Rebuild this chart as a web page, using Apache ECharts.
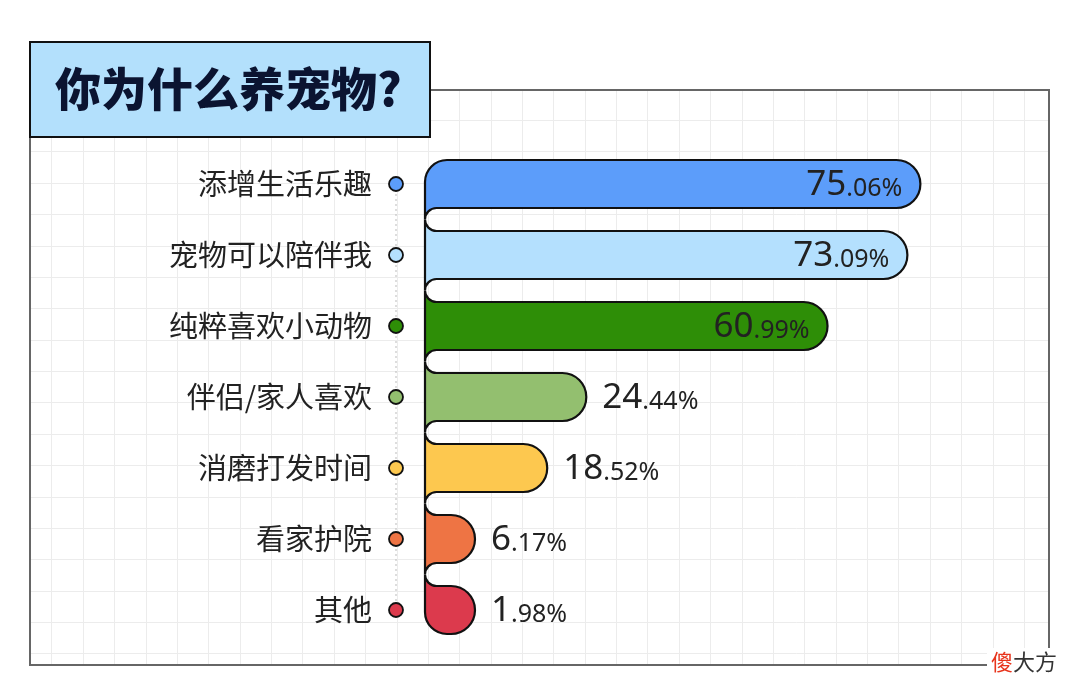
<!DOCTYPE html>
<html>
<head>
<meta charset="utf-8">
<script src="https://cdn.jsdelivr.net/npm/echarts@6/dist/echarts.min.js"></script>
<style>html,body{margin:0;padding:0;background:#fff;}#c{width:1080px;height:700px;}</style>
</head>
<body>
<div id="c"></div>
<script>
const titleText = '你为什么养宠物?';
const categories = ['添增生活乐趣', '宠物可以陪伴我', '纯粹喜欢小动物', '伴侣/家人喜欢', '消磨打发时间', '看家护院', '其他'];
const values = [75.06, 73.09, 60.99, 24.44, 18.52, 6.17, 1.98];
const palette = ['#5c9dfa', '#b4e0fe', '#2e8e07', '#93bf6f', '#fdc84f', '#ee7444', '#dc3a4d'];
const watermark = ['傻', '大方'];
const bgCols = Array.from({ length: 34 }, (_, i) => String(i));
const bgRows = Array.from({ length: 20 }, (_, i) => String(i));

const chart = echarts.init(document.getElementById('c'));
const n = values.length;
const CELL = 31.37;

function renderItem(params, api) {
  const idx = params.dataIndex;
  const v = api.value(0);
  const o = api.coord([0, idx]);
  const c = api.coord([v, idx]);
  const band = api.size([0, 1])[1];
  const h = band * 0.676;
  const x0 = o[0], yc = o[1];
  const L = Math.max(c[0] - x0, 50);
  const xe = x0 + L;
  const r = h / 2;
  const yt = yc - h / 2, yb = yc + h / 2;
  const rg = (band - h) / 2;
  const R = 22;
  let p = '';
  if (idx === 0) {
    p += 'M' + x0 + ',' + (yt + R) + ' A' + R + ',' + R + ' 0 0 1 ' + (x0 + R) + ',' + yt;
  } else {
    p += 'M' + x0 + ',' + (yt - rg) + ' A' + rg + ',' + rg + ' 0 0 0 ' + (x0 + rg) + ',' + yt;
  }
  p += ' L' + (xe - r) + ',' + yt;
  p += ' A' + r + ',' + r + ' 0 0 1 ' + (xe - r) + ',' + yb;
  if (idx < n - 1) {
    p += ' L' + (x0 + rg) + ',' + yb + ' A' + rg + ',' + rg + ' 0 0 0 ' + x0 + ',' + (yb + rg);
  } else {
    p += ' L' + (x0 + R) + ',' + yb + ' A' + R + ',' + R + ' 0 0 1 ' + x0 + ',' + (yb - R);
  }
  p += ' Z';

  const s = v.toFixed(2).split('.');
  const inside = v > 40;
  const xd = x0 - 29;
  const children = [];
  if (idx < n - 1) {
    children.push({
      type: 'line',
      shape: { x1: xd, y1: yc, x2: xd, y2: yc + band },
      style: { stroke: '#bbbbbb', lineWidth: 1, lineDash: [2, 3] }
    });
  }
  children.push({
    type: 'path',
    shape: { pathData: p },
    style: { fill: palette[idx], stroke: '#111', lineWidth: 2.2 }
  });
  children.push({
    type: 'circle',
    shape: { cx: xd, cy: yc, r: 7 },
    style: { fill: palette[idx], stroke: '#111', lineWidth: 1.8 }
  });
  children.push({
    type: 'text',
    x: inside ? xe - 18 : xe + 16,
    y: yc + 1,
    style: {
      text: '{a|' + s[0] + '}{b|.' + s[1] + '%}',
      align: inside ? 'right' : 'left',
      verticalAlign: 'middle',
      rich: {
        a: { fontSize: 35, fontFamily: 'Noto Sans', fill: '#222', verticalAlign: 'bottom' },
        b: { fontSize: 25, fontFamily: 'Noto Sans', fill: '#222', verticalAlign: 'bottom', padding: [0, 0, 1, 0] }
      }
    }
  });
  return { type: 'group', children: children };
}

const bgSplit = { show: true, interval: 0, lineStyle: { color: '#ececec', width: 1 } };
const option = {
  backgroundColor: '#ffffff',
  animation: false,
  grid: [
    { left: 425, width: 627, top: 148.5, height: 497 },
    { left: 51.7 - CELL, top: 89, width: CELL * 33, height: CELL * 19 }
  ],
  xAxis: [
    { gridIndex: 0, type: 'value', min: 0, max: 95, show: false },
    { gridIndex: 1, type: 'category', data: bgCols, boundaryGap: false,
      axisLine: { show: false }, axisTick: { show: false }, axisLabel: { show: false, interval: 0 },
      splitLine: bgSplit }
  ],
  yAxis: [
    { gridIndex: 0, type: 'category', data: categories, inverse: true,
      axisLine: { show: false }, axisTick: { show: false }, splitLine: { show: false },
      axisLabel: { margin: 53, fontSize: 29, color: '#222', fontFamily: 'Noto Sans CJK SC' } },
    { gridIndex: 1, type: 'category', data: bgRows, boundaryGap: false, inverse: true,
      axisLine: { show: false }, axisTick: { show: false }, axisLabel: { show: false, interval: 0 },
      splitLine: bgSplit }
  ],
  graphic: [
    { type: 'rect', z: 9, shape: { x: 0, y: 80, width: 29, height: 620 }, style: { fill: '#fff' } },
    { type: 'rect', z: 9, shape: { x: 1050, y: 80, width: 30, height: 620 }, style: { fill: '#fff' } },
    { type: 'rect', z: 9, shape: { x: 0, y: 666, width: 1080, height: 34 }, style: { fill: '#fff' } },
    { type: 'rect', z: 10, shape: { x: 30, y: 90, width: 1019, height: 575 },
      style: { fill: 'transparent', stroke: '#666', lineWidth: 2 } },
    { type: 'rect', z: 11, shape: { x: 30, y: 42, width: 400, height: 95 },
      style: { fill: '#b3e0fc', stroke: '#111', lineWidth: 2 } },
    { type: 'text', z: 12, x: 55, y: 89,
      style: { text: titleText, fill: '#0b1431', fontSize: 46, fontWeight: 900,
        fontFamily: 'Noto Sans CJK SC', verticalAlign: 'middle', align: 'left' } },
    { type: 'text', z: 12, x: 1024, y: 662,
      style: { text: '{r|' + watermark[0] + '}{d|' + watermark[1] + '}', align: 'center', verticalAlign: 'middle',
        backgroundColor: '#fff', padding: [3, 4],
        rich: {
          r: { fontSize: 22, fill: '#e8341c', fontFamily: 'Noto Sans CJK SC' },
          d: { fontSize: 22, fill: '#333', fontFamily: 'Noto Sans CJK SC' }
        } } }
  ],
  series: [
    { type: 'custom', xAxisIndex: 0, yAxisIndex: 0, renderItem: renderItem,
      encode: { x: 0, y: 1 }, z: 5,
      data: values.map((v, i) => [v, i]) }
  ]
};
chart.setOption(option);
</script>
</body>
</html>
